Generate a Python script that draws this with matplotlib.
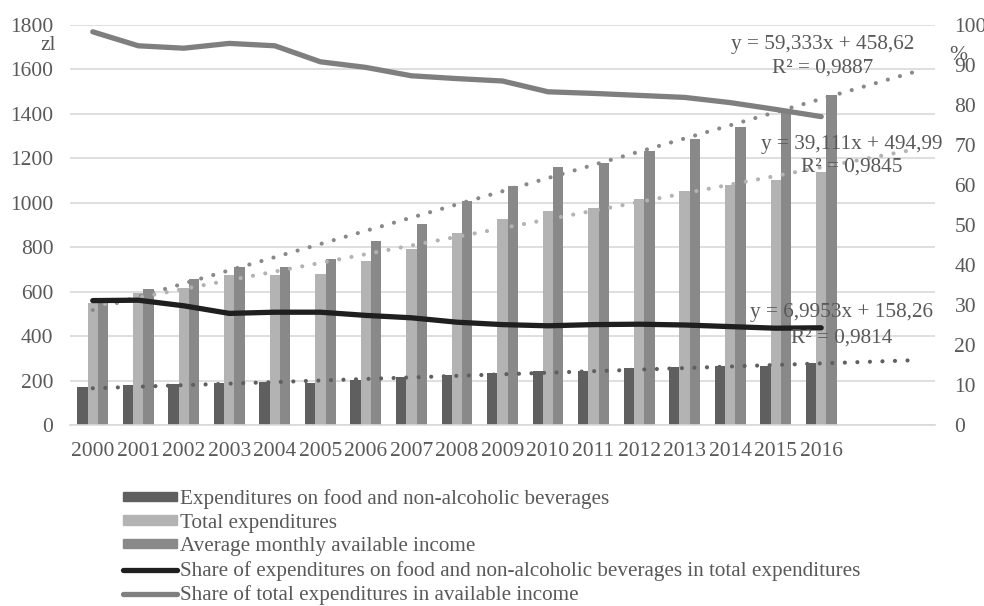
import matplotlib
matplotlib.use("Agg")
import matplotlib.pyplot as plt
import numpy as np
from matplotlib.patches import Patch
from matplotlib.lines import Line2D

years = [str(y) for y in range(2000, 2017)]
food_exp = [171, 180, 183, 190, 192, 191, 204, 217, 225, 233, 241, 245, 256, 263, 266, 266, 278]
total_exp = [548, 593, 618, 675, 675, 680, 739, 790, 865, 925, 965, 976, 1015, 1052, 1079, 1103, 1138]
income = [553, 612, 656, 710, 712, 746, 828, 905, 1010, 1076, 1163, 1178, 1232, 1286, 1340, 1423, 1483]
share_food = [31.1, 31.2, 29.8, 27.9, 28.2, 28.2, 27.4, 26.8, 25.7, 25.1, 24.8, 25.1, 25.2, 25.0, 24.6, 24.2, 24.3]
share_total = [98.3, 94.8, 94.2, 95.4, 94.8, 90.8, 89.4, 87.3, 86.6, 86.0, 83.3, 82.9, 82.4, 81.9, 80.6, 78.9, 77.1]

# trendline coefficients (slope, intercept) as printed on chart
trend_income = (59.333, 458.62)
trend_total = (39.111, 494.99)
trend_food = (6.9953, 158.26)
trend_labels = [("y = 59,333x + 458,62", "R² = 0,9887"),
                ("y = 39,111x + 494,99", "R² = 0,9845"),
                ("y = 6,9953x + 158,26", "R² = 0,9814")]
forecast = 2

left_ticks = list(range(0, 1801, 200))
right_ticks = list(range(0, 101, 10))

FONT = "Liberation Serif"
TXT = "#595959"
c_food, c_total, c_inc = "#5f5f5f", "#b3b3b3", "#898989"
c_share_food, c_share_total = "#1f1f1f", "#7f7f7f"

plt.rcParams['font.family'] = [FONT, 'DejaVu Sans']

fig = plt.figure(figsize=(9.84, 6.06), dpi=100)
ax = fig.add_axes([70/984, 1-425/606, 865/984, 400/606])
ax2 = ax.twinx()

n = len(years)
x = np.arange(n)
w = 0.226
ax.bar(x - w, food_exp, w, color=c_food, zorder=2)
ax.bar(x, total_exp, w, color=c_total, zorder=2)
ax.bar(x + w, income, w, color=c_inc, zorder=2)

xt = np.arange(n + forecast)
for (a, b), col in [(trend_income, c_inc), (trend_total, c_total), (trend_food, c_food)]:
    ax.plot(xt, a * (xt + 1) + b, color=col, lw=3, linestyle=(0, (0.01, 3.0)),
            dash_capstyle='round', zorder=3)

ax2.plot(x, share_food, color=c_share_food, lw=3.8, solid_capstyle='round', zorder=4)
ax2.plot(x, share_total, color=c_share_total, lw=3.8, solid_capstyle='round', zorder=4)

ax.set_xlim(-0.5, n + forecast - 0.5)
ax.set_ylim(0, 1800)
ax2.set_ylim(0, 100)
ax.set_yticks(left_ticks)
ax2.set_yticks(right_ticks)
ax.set_xticks(x)
ax.set_xticklabels(years)
ax.grid(axis='y', color='#d9d9d9', lw=1.2, zorder=0)
ax.set_axisbelow(True)
for a_ in (ax, ax2):
    for s in a_.spines.values():
        s.set_visible(False)
ax.spines['bottom'].set_visible(True)
ax.spines['bottom'].set_color('#d9d9d9')
ax.spines['bottom'].set_linewidth(1.2)
ax.tick_params(axis='both', length=0, labelsize=15.5, labelcolor=TXT)
ax.tick_params(axis='y', pad=12)
ax.tick_params(axis='x', pad=12)
ax2.tick_params(axis='y', length=0, labelsize=15.5, labelcolor=TXT, pad=14)
for lab in ax.get_xticklabels() + ax.get_yticklabels() + ax2.get_yticklabels():
    lab.set_fontfamily(FONT)

ax.text(-0.016, 0.95, "zl", transform=ax.transAxes, ha='right', va='center',
        fontsize=15.5, color=TXT)
ax2.text(1.016, 0.925, "%", transform=ax.transAxes, ha='left', va='center',
         fontsize=15.5, color=TXT)

# trend labels (pixel positions converted to figure fraction)
pos = [((823, 44), (823, 68)), ((852, 144), (852, 167)), ((842, 313), (842, 338))]
for (l1, l2), ((x1, y1), (x2, y2)) in zip(trend_labels, pos):
    fig.text(x1/984, 1 - y1/606, l1, ha='center', va='center', fontsize=15.3, color=TXT, zorder=10)
    fig.text(x2/984, 1 - y2/606, l2, ha='center', va='center', fontsize=15.3, color=TXT, zorder=10)

handles = [Patch(color=c_food), Patch(color=c_total), Patch(color=c_inc),
           Line2D([], [], color=c_share_food, lw=3.8, solid_capstyle='round'),
           Line2D([], [], color=c_share_total, lw=3.8, solid_capstyle='round')]
labels = ["Expenditures on food and non-alcoholic beverages", "Total expenditures",
          "Average monthly available income",
          "Share of expenditures on food and non-alcoholic beverages in total expenditures",
          "Share of total expenditures in available income"]
leg = fig.legend(handles, labels, loc='upper left', bbox_to_anchor=(123/984, 1 - 489/606),
                 frameon=False, fontsize=15.2, handlelength=2.55, handleheight=0.32,
                 handletextpad=0.15, labelspacing=0.22, borderaxespad=0, borderpad=0)
for t in leg.get_texts():
    t.set_color(TXT)

fig.savefig("out.png", dpi=100)
